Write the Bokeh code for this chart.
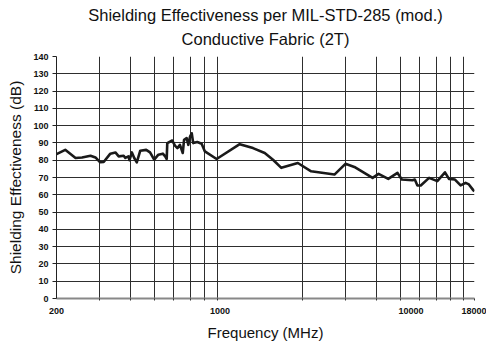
from bokeh.plotting import figure
from bokeh.models import Range1d, FixedTicker, Title
from bokeh.embed import file_html
from bokeh.resources import INLINE

# Frequency (MHz) on the chart's log grid (grid spans 200 .. right edge)
freq = [200, 217, 239, 254, 275, 288, 301, 311, 331, 347, 358, 375, 381, 392, 396,
        405, 414, 424, 438, 463, 480, 499, 519, 541, 553, 561, 564, 591, 606, 620,
        635, 652, 660, 676, 687, 698, 709, 719, 747, 778, 802, 895, 1111, 1258, 1404,
        1517, 1640, 1914, 2168, 2696, 2988, 3248, 3565, 3853, 4074, 4461, 4863, 5066,
        5594, 5720, 5860, 6048, 6536, 7060, 7586, 7874, 8328, 8782, 9202, 9490, 9880, 10000]
# Shielding effectiveness (dB)
se_db = [83.5, 86, 81.3, 81.6, 82.6, 81.6, 78.8, 79, 83.8, 84.5, 82.2, 82.6, 81.3, 82.2, 80,
         84.5, 81.3, 78.8, 85.5, 86, 84.5, 80.3, 83.2, 83.8, 82.2, 80.7, 89.9, 91.4, 88.4, 87,
         88.9, 84.2, 91.8, 92.8, 88.9, 93.7, 95.6, 89.9, 90.5, 89.5, 85.1, 80.7, 89.3, 87, 84.2,
         80.3, 75.6, 78.4, 73.6, 71.7, 77.9, 76.1, 72.7, 69.8, 72.1, 69.2, 72.7, 68.8,
         68.4, 68.8, 65.4, 65.4, 69.8, 67.9, 73, 69.2, 68.8, 65.4, 66.9, 66, 62.7, 62.1]

# axis layout values
x_min, x_max = 200, 10000
y_min, y_max = 0, 140
y_ticks = list(range(0, 141, 10))
x_grid = [300, 400, 500, 600, 700, 800, 900, 2000, 3000, 4000, 5000, 6000, 7000, 8000, 9000, 10000]
x_label_pos = [200, 923, 5525, 10000]
x_label_txt = ["200", "1000", "10000", "18000"]
title_lines = ["Shielding Effectiveness per MIL-STD-285 (mod.)", "Conductive Fabric (2T)"]

FONT = "Liberation Sans"

p = figure(width=486, height=343, x_axis_type="log", output_backend="svg",
           toolbar_location=None, x_range=Range1d(x_min, x_max),
           y_range=Range1d(y_min, y_max),
           min_border_left=56, min_border_right=12, min_border_top=56, min_border_bottom=43)
p.title = None
p.add_layout(Title(text=title_lines[1], align="center", vertical_align="top", text_font=FONT,
                   text_font_size="16.5px", text_font_style="normal", text_color="#111111",
                   text_line_height=0.9, standoff=12.5), "above")
p.add_layout(Title(text=title_lines[0], align="center", vertical_align="top", text_font=FONT,
                   text_font_size="16.5px", text_font_style="normal", text_color="#111111",
                   text_line_height=0.9, standoff=-5), "above")

p.line(freq, se_db, line_color="#1a1a1a", line_width=2.6, line_join="round")

p.outline_line_color = None
p.background_fill_color = "white"

# grids
p.ygrid.ticker = FixedTicker(ticks=y_ticks[1:])
p.ygrid.grid_line_color = "#2e2e2e"
p.ygrid.grid_line_width = 1
p.xgrid.ticker = FixedTicker(ticks=x_grid)
p.xgrid.grid_line_color = "#2e2e2e"
p.xgrid.grid_line_width = 1

# y axis
p.yaxis.ticker = FixedTicker(ticks=y_ticks)
p.yaxis.axis_label = "Shielding Effectiveness (dB)"
p.yaxis.axis_label_text_font = FONT
p.yaxis.axis_label_text_font_size = "15.5px"
p.yaxis.axis_label_text_font_style = "normal"
p.yaxis.axis_label_text_color = "#111111"
p.yaxis.axis_label_standoff = 6
p.yaxis.major_label_text_font = FONT
p.yaxis.major_label_text_font_size = "9px"
p.yaxis.major_label_text_font_style = "bold"
p.yaxis.major_label_text_color = "#111111"
p.yaxis.major_label_standoff = 4
p.yaxis.major_tick_out = 4
p.yaxis.major_tick_in = 0
p.yaxis.minor_tick_line_color = None
p.yaxis.axis_line_color = "#222222"
p.yaxis.major_tick_line_color = "#222222"

# x axis
p.xaxis.ticker = FixedTicker(ticks=x_label_pos, minor_ticks=x_grid)
p.xaxis.major_label_overrides = {v: t for v, t in zip(x_label_pos, x_label_txt)}
p.xaxis.axis_label = "Frequency (MHz)"
p.xaxis.axis_label_text_font = FONT
p.xaxis.axis_label_text_font_size = "15px"
p.xaxis.axis_label_text_font_style = "normal"
p.xaxis.axis_label_text_color = "#111111"
p.xaxis.axis_label_standoff = 7
p.xaxis.major_label_text_font = FONT
p.xaxis.major_label_text_font_size = "9px"
p.xaxis.major_label_text_font_style = "bold"
p.xaxis.major_label_text_color = "#111111"
p.xaxis.major_label_standoff = 7
p.xaxis.major_tick_out = 0
p.xaxis.major_tick_in = 0
p.xaxis.minor_tick_out = 2
p.xaxis.minor_tick_in = 0
p.xaxis.minor_tick_line_color = "#333333"
p.xaxis.axis_line_color = "#888888"
p.xaxis.axis_line_width = 2

open("out.html", "w").write(file_html(p, INLINE))
